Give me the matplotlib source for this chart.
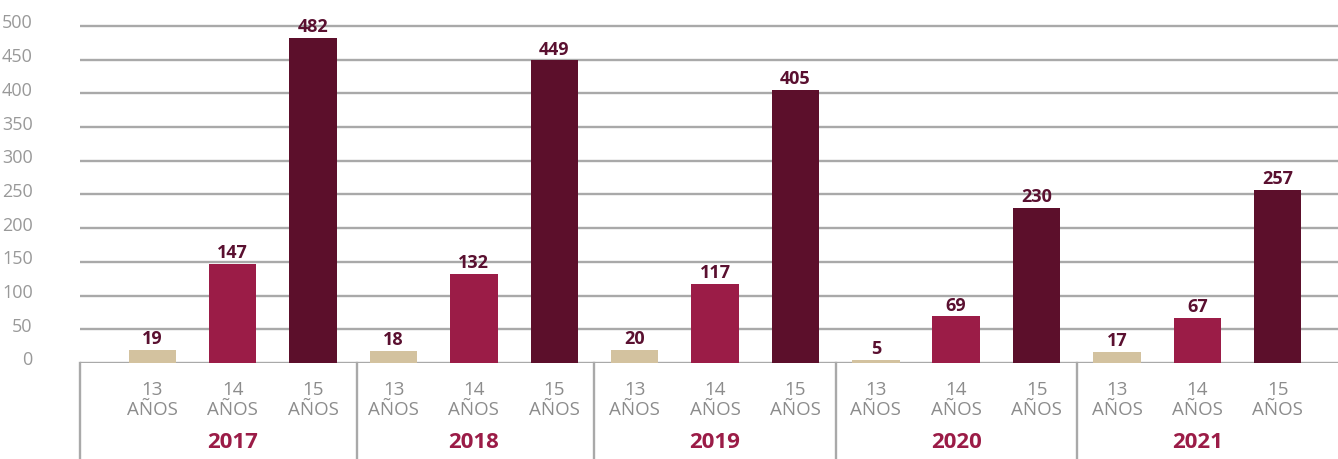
import matplotlib.pyplot as plt
from matplotlib.transforms import blended_transform_factory, ScaledTranslation
from matplotlib.lines import Line2D

# datos
years = ['2017', '2018', '2019', '2020', '2021']
ages = ['13\nAÑOS', '14\nAÑOS', '15\nAÑOS']
age13 = [19, 18, 20, 5, 17]
age14 = [147, 132, 117, 69, 67]
age15 = [482, 449, 405, 230, 257]

colors = ['#d3c29f', '#9b1c47', '#5c0f2b']
gray = '#8c8c8c'

plt.rcParams['font.family'] = ['Open Sans', 'DejaVu Sans']

fig = plt.figure(figsize=(13.38, 4.6), dpi=100)
ax = fig.add_axes([80/1338, 1-364/460, 1-80/1338, 364/460])

vals = []
for i in range(len(years)):
    vals += [age13[i], age14[i], age15[i]]
xs = list(range(len(vals)))
cols = [colors[i % 3] for i in xs]

ax.set_axisbelow(True)
bars = ax.bar(xs, vals, width=0.59, color=cols, zorder=2)
for x, v in zip(xs, vals):
    ax.annotate(str(v), (x, v), xytext=(0, 2), textcoords='offset points',
                ha='center', va='bottom', fontsize=13, fontweight='bold',
                color='#5a1030')

ax.set_xlim(-0.9, 14.75)
ax.set_ylim(0, 540)
ax.set_yticks(range(0, 501, 50))
ax.yaxis.grid(True, color='#a9a9a9', linewidth=1.7)
ax.tick_params(axis='y', length=0, pad=34, labelsize=13, labelcolor='#999999')
ax.tick_params(axis='x', length=0, labelbottom=False)
for lab in ax.get_yticklabels():
    lab.set_transform(lab.get_transform() +
                      ScaledTranslation(0, 4/72, fig.dpi_scale_trans))
for s in ax.spines.values():
    s.set_visible(False)

# etiquetas de categorias
tr = blended_transform_factory(ax.transData, fig.transFigure)
for x in xs:
    fig.text(x, 1-400/460, ages[x % 3], transform=tr, ha='center',
             va='center', fontsize=13.5, color=gray, linespacing=1.2)
for i, y in enumerate(years):
    fig.text(3*i+1, 1-443/460, y, transform=tr, ha='center', va='center',
             fontsize=16, fontweight='bold', color='#9b1c47')
for d in [-0.9, 2.55, 5.5, 8.5, 11.5]:
    fig.add_artist(Line2D([d, d], [0, 1-364/460], transform=tr,
                          color='#a9a9a9', linewidth=1.7))

plt.savefig('out.png', dpi=100)
